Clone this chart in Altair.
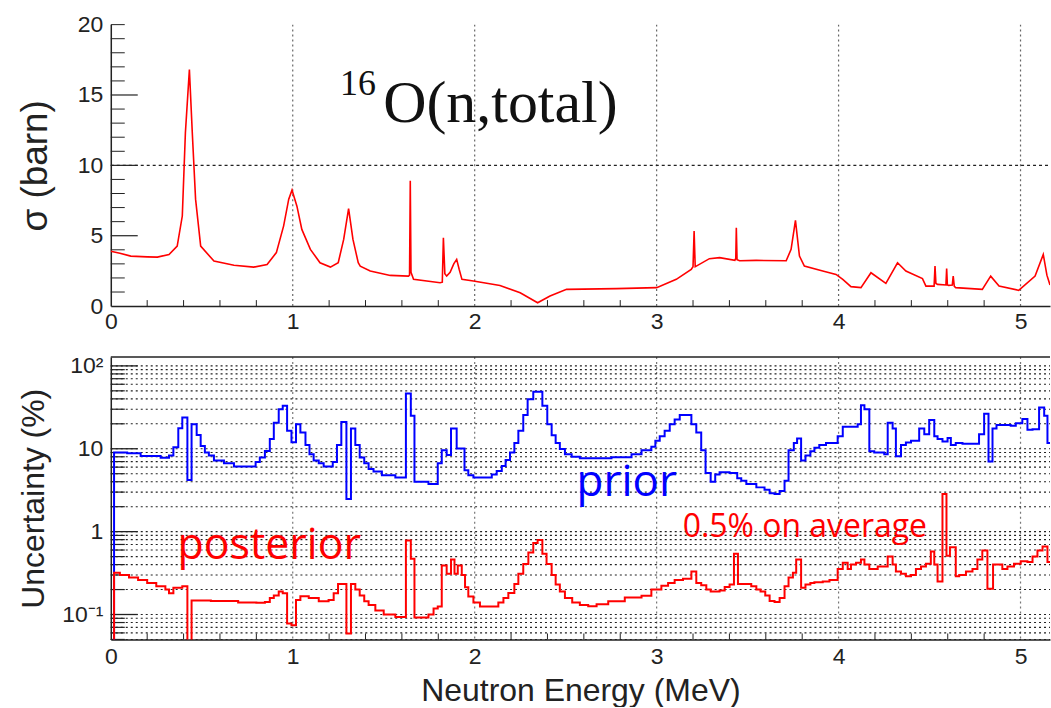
import altair as alt
import pandas as pd

# ---------------- data ----------------
energy_top = [0.0, 0.05, 0.11, 0.2, 0.256, 0.32, 0.365, 0.393, 0.41, 0.432, 0.448, 0.466, 0.494, 0.567,
              0.677, 0.786, 0.859, 0.91, 0.95, 0.978, 0.996, 1.023, 1.05, 1.097, 1.15, 1.207, 1.25, 1.28,
              1.307, 1.331, 1.36, 1.371, 1.426, 1.536, 1.636, 1.642, 1.646, 1.650, 1.664, 1.81, 1.822,
              1.828, 1.836, 1.846, 1.865, 1.885, 1.901, 1.915, 1.93, 1.993, 2.139, 2.25, 2.346, 2.414,
              2.505, 2.78, 3.0, 3.108, 3.19, 3.2, 3.206, 3.212, 3.218, 3.29, 3.346, 3.43, 3.435, 3.438,
              3.442, 3.456, 3.547, 3.712, 3.739, 3.763, 3.785, 3.812, 3.913, 3.986, 4.023, 4.068, 4.123,
              4.178, 4.26, 4.324, 4.37, 4.461, 4.48, 4.525, 4.53, 4.535, 4.544, 4.59, 4.594, 4.598, 4.605,
              4.625, 4.63, 4.636, 4.644, 4.79, 4.836, 4.882, 4.99, 5.08, 5.125, 5.145, 5.162]
sigma_top = [3.9, 3.75, 3.55, 3.5, 3.48, 3.67, 4.26, 6.4, 12.3, 16.8, 12.3, 7.6, 4.26, 3.2,
             2.9, 2.77, 2.96, 3.8, 5.7, 7.6, 8.24, 7.1, 5.45, 4.03, 3.08, 2.77, 3.08, 4.74,
             6.92, 4.74, 3.08, 2.84, 2.49, 2.18, 2.13, 2.2, 8.9, 2.4, 1.9, 1.66, 1.7,
             4.86, 2.3, 2.13, 2.4, 3.0, 3.32, 2.6, 1.9, 1.78, 1.47, 0.95, 0.24, 0.71,
             1.19, 1.24, 1.31, 1.9, 2.6, 2.8, 5.33, 2.8, 2.84, 3.37, 3.44, 3.25, 3.4, 5.57,
             3.3, 3.22, 3.25, 3.22, 4.03, 6.09, 3.55, 2.84, 2.49, 2.25, 1.9, 1.38, 1.31,
             2.37, 1.61, 3.08, 2.49, 1.95, 1.42, 1.42, 2.84, 1.6, 1.54, 1.5, 2.66, 1.5, 1.47,
             1.5, 2.13, 1.4, 1.31, 1.19, 2.13, 1.42, 1.12, 2.13, 3.67, 2.2, 1.5]

prior_edges = [0.0, 0.018, 0.09, 0.164, 0.274, 0.32, 0.344, 0.371, 0.393, 0.421, 0.444, 0.472, 0.494,
               0.517, 0.539, 0.567, 0.622, 0.677, 0.796, 0.819, 0.847, 0.874, 0.896, 0.923, 0.945,
               0.969, 0.993, 1.018, 1.042, 1.07, 1.092, 1.115, 1.143, 1.17, 1.22, 1.243, 1.267, 1.295,
               1.32, 1.344, 1.368, 1.393, 1.417, 1.444, 1.49, 1.564, 1.622, 1.649, 1.669, 1.746, 1.797,
               1.819, 1.846, 1.87, 1.901, 1.944, 1.965, 1.993, 2.094, 2.121, 2.149, 2.17, 2.194, 2.218,
               2.24, 2.267, 2.291, 2.322, 2.372, 2.399, 2.423, 2.445, 2.468, 2.496, 2.533, 2.578, 2.752,
               2.862, 2.917, 2.971, 2.993, 3.017, 3.044, 3.072, 3.099, 3.127, 3.191, 3.218, 3.245, 3.269,
               3.297, 3.322, 3.346, 3.401, 3.443, 3.465, 3.493, 3.548, 3.593, 3.621, 3.648, 3.676, 3.703,
               3.725, 3.754, 3.772, 3.794, 3.818, 3.845, 3.867, 3.894, 3.931, 3.995, 4.023, 4.105, 4.123,
               4.142, 4.169, 4.196, 4.251, 4.27, 4.297, 4.315, 4.343, 4.37, 4.398, 4.443, 4.471, 4.498,
               4.526, 4.544, 4.571, 4.599, 4.617, 4.644, 4.681, 4.772, 4.8, 4.824, 4.846, 4.868, 4.946,
               4.974, 5.01, 5.038, 5.066, 5.102, 5.13, 5.148, 5.162]
prior_vals = [0.03, 9.0, 8.8, 8.2, 7.8, 8.3, 10.4, 17.7, 23.8, 4.2, 19.8, 14.7, 10.8,
              9.0, 8.3, 7.2, 6.7, 6.1, 6.9, 7.85, 9.4, 13.1, 20.6, 30.0, 33.0,
              16.5, 12.0, 19.8, 15.7, 11.1, 8.6, 7.2, 6.7, 6.1, 6.9, 11.1, 21.0, 2.48,
              17.6, 11.1, 7.85, 6.7, 5.7, 5.3, 4.8, 4.5, 46.5, 25.0, 4.0, 3.76, 6.7,
              9.6, 8.4, 17.6, 10.1, 5.5, 4.8, 4.5, 4.9, 5.4, 6.2, 7.3, 9.0, 11.7,
              16.5, 25.5, 39.5, 48.6, 33.0, 19.8, 14.6, 11.7, 9.9, 8.6, 8.0, 7.7, 7.9,
              8.6, 9.6, 10.6, 12.5, 14.2, 16.5, 19.8, 22.5, 25.5, 19.8, 15.7, 9.6, 5.1,
              4.0, 4.9, 5.2, 5.1, 4.4, 4.1, 3.76, 3.42, 3.2, 2.9, 2.85, 3.1, 4.1,
              9.6, 11.7, 13.3, 7.2, 8.3, 9.3, 10.3, 11.1, 11.7, 14.2, 18.4, 19.8, 33.4,
              30.0, 9.3, 9.0, 8.6, 20.6, 17.6, 8.1, 11.1, 11.9, 12.5, 17.6, 15.0, 22.3,
              14.2, 13.1, 12.2, 13.5, 11.1, 11.7, 11.5, 15.0, 26.4, 7.0, 17.6, 19.3, 19.0,
              20.3, 22.9, 16.9, 17.2, 31.5, 25.0, 11.7, 11.7]

post_edges = [0.0, 0.018, 0.05, 0.1, 0.15, 0.2, 0.25, 0.3, 0.32, 0.344, 0.393, 0.421, 0.444, 0.55,
              0.70, 0.8, 0.847, 0.874, 0.896, 0.923, 0.945, 0.969, 0.993, 1.018, 1.042, 1.088, 1.143,
              1.197, 1.225, 1.249, 1.295, 1.32, 1.344, 1.368, 1.393, 1.417, 1.454, 1.5, 1.564, 1.622,
              1.649, 1.669, 1.746, 1.774, 1.797, 1.819, 1.846, 1.87, 1.889, 1.907, 1.929, 1.947, 1.965,
              1.993, 2.029, 2.13, 2.158, 2.185, 2.218, 2.24, 2.267, 2.295, 2.322, 2.346, 2.372, 2.395,
              2.423, 2.445, 2.468, 2.496, 2.536, 2.578, 2.624, 2.67, 2.734, 2.825, 2.917, 2.971, 3.026,
              3.063, 3.099, 3.145, 3.191, 3.218, 3.245, 3.273, 3.297, 3.346, 3.374, 3.401, 3.425, 3.447,
              3.52, 3.548, 3.571, 3.597, 3.621, 3.648, 3.676, 3.703, 3.725, 3.749, 3.767, 3.794, 3.818,
              3.845, 3.867, 3.913, 3.95, 3.995, 4.023, 4.05, 4.068, 4.096, 4.123, 4.142, 4.169, 4.215,
              4.27, 4.297, 4.315, 4.343, 4.37, 4.398, 4.425, 4.453, 4.48, 4.507, 4.526, 4.544, 4.571,
              4.593, 4.612, 4.644, 4.663, 4.7, 4.736, 4.763, 4.79, 4.818, 4.849, 4.9, 4.928, 4.964,
              5.001, 5.038, 5.066, 5.093, 5.121, 5.148, 5.162]
post_vals = [0.03, 0.32, 0.30, 0.28, 0.26, 0.24, 0.22, 0.2, 0.18, 0.21, 0.22, 0.03, 0.148, 0.146,
             0.14, 0.139, 0.142, 0.158, 0.17, 0.19, 0.18, 0.078, 0.074, 0.15, 0.166, 0.158, 0.145,
             0.15, 0.18, 0.234, 0.059, 0.234, 0.2, 0.17, 0.145, 0.13, 0.112, 0.1, 0.093, 0.78,
             0.47, 0.092, 0.1, 0.118, 0.125, 0.39, 0.31, 0.46, 0.31, 0.39, 0.3, 0.213, 0.165,
             0.14, 0.125, 0.14, 0.158, 0.182, 0.234, 0.31, 0.408, 0.56, 0.73, 0.79, 0.54, 0.408,
             0.3, 0.23, 0.19, 0.158, 0.14, 0.13, 0.126, 0.133, 0.145, 0.16, 0.168, 0.2, 0.223,
             0.24, 0.26, 0.27, 0.33, 0.24, 0.225, 0.2, 0.19, 0.195, 0.215, 0.23, 0.54, 0.234,
             0.22, 0.2, 0.19, 0.17, 0.146, 0.142, 0.158, 0.22, 0.28, 0.32, 0.46, 0.21, 0.23,
             0.24, 0.245, 0.25, 0.26, 0.355, 0.42, 0.355, 0.4, 0.42, 0.46, 0.4, 0.355, 0.38,
             0.5, 0.4, 0.33, 0.31, 0.29, 0.3, 0.355, 0.38, 0.41, 0.575, 0.4, 0.25, 2.84,
             0.51, 0.647, 0.29, 0.3, 0.33, 0.355, 0.46, 0.59, 0.204, 0.4, 0.355, 0.38, 0.41,
             0.44, 0.43, 0.5, 0.59, 0.66, 0.43, 0.43]

x_labels = [0, 1, 2, 3, 4, 5]
x_grid = [1, 2, 3, 4, 5]
x_minor_ticks = [0.2, 0.4, 0.6, 0.8, 1.2, 1.4, 1.6, 1.8, 2.2, 2.4, 2.6, 2.8, 3.2, 3.4, 3.6, 3.8,
                 4.2, 4.4, 4.6, 4.8]
top_y_labels = [0, 5, 10, 15, 20]
top_y_minor = [1, 2, 3, 4, 6, 7, 8, 9, 11, 12, 13, 14, 16, 17, 18, 19, 20]
top_y_major = [5, 10, 15]
top_y_grid = [10]
log_major = [0.1, 1, 10, 100]
log_minor = [0.05, 0.06, 0.07, 0.08, 0.09, 0.2, 0.3, 0.4, 0.5, 0.6, 0.7, 0.8, 0.9,
             2, 3, 4, 5, 6, 7, 8, 9, 20, 30, 40, 50, 60, 70, 80, 90]

# ---------------- layout ----------------
W = 941
H1 = 282
H2 = 283
SANS = "Liberation Sans"
AX = "#222222"

xscale = alt.Scale(domain=[0, 5.162], nice=False, zero=False)
ytop = alt.Scale(domain=[0, 20], nice=False, zero=False)
ybot = alt.Scale(type="log", domain=[0.05, 128], nice=False)

axis_common = dict(tickSize=0, grid=False, domainColor=AX, domainWidth=1.5, labelFont=SANS,
                   labelFontSize=23, labelColor=AX, titleFont=SANS,
                   titleFontWeight="normal", titleColor=AX)

xa_top = alt.Axis(title=None, values=x_labels, format="d", labelPadding=4, labelFlush=False,
                  **axis_common)
xa_bot = alt.Axis(title="Neutron Energy (MeV)", values=x_labels, format="d", labelPadding=6,
                  labelFlush=False, titlePadding=7, titleFontSize=32, **axis_common)
ya_top = alt.Axis(title="σ (barn)", values=top_y_labels, labelPadding=8, titlePadding=8,
                  titleFontSize=37, minExtent=48, maxExtent=48, **axis_common)
ya_bot = alt.Axis(title="Uncertainty (%)", values=log_major, labelPadding=8, titlePadding=12,
                  titleFontSize=32, minExtent=48, maxExtent=48,
                  labelExpr="datum.value >= 99 ? '10²' : datum.value >= 9 ? '10' : datum.value >= 0.9 ? '1' : '10⁻¹'",
                  **axis_common)

one = pd.DataFrame({"a": [0]})

# ---- top panel ----
top_df = pd.DataFrame({"E": energy_top, "S": sigma_top})
xg_df = pd.DataFrame({"E": x_grid})
xm_df = pd.DataFrame({"E": x_minor_ticks})
ymin_df = pd.DataFrame({"S": top_y_minor})
ymaj_df = pd.DataFrame({"S": top_y_major})
yg_df = pd.DataFrame({"S": top_y_grid})

TX = lambda f: alt.X(f, scale=xscale, axis=xa_top)
TY = lambda f: alt.Y(f, scale=ytop, axis=ya_top)

t_vgrid = alt.Chart(xg_df).mark_rule(color="#666666", strokeDash=[2, 3], strokeWidth=1.2).encode(
    x=TX("E:Q"), y=alt.value(0), y2=alt.value(H1))
t_hgrid = alt.Chart(yg_df).mark_rule(color="#222222", strokeDash=[3, 3], strokeWidth=1.2).encode(
    y=TY("S:Q"), x=alt.value(0), x2=alt.value(W))
t_xt = alt.Chart(xm_df).mark_rule(color=AX, strokeWidth=1).encode(
    x=TX("E:Q"), y=alt.value(H1), y2=alt.value(H1 - 6))
t_ymin = alt.Chart(ymin_df).mark_rule(color=AX, strokeWidth=1).encode(
    y=TY("S:Q"), x=alt.value(0), x2=alt.value(14))
t_ymaj = alt.Chart(ymaj_df).mark_rule(color=AX, strokeWidth=1.2).encode(
    y=TY("S:Q"), x=alt.value(0), x2=alt.value(27))
t_line = alt.Chart(top_df).mark_line(color="#ff0000", strokeWidth=1.6, clip=True).encode(
    x=TX("E:Q"), y=TY("S:Q"))
t_sup = alt.Chart(one).mark_text(
    text="16", font="Liberation Serif", fontSize=36, align="left", baseline="alphabetic",
    color="#111111").encode(x=alt.datum(1.26, scale=xscale), y=alt.datum(15.0, scale=ytop))
t_title = alt.Chart(one).mark_text(
    text="O(n,total)", font="Liberation Serif", fontSize=60, align="left", baseline="alphabetic",
    color="#111111").encode(x=alt.datum(1.497, scale=xscale), y=alt.datum(13.1, scale=ytop))

top = alt.layer(t_vgrid, t_hgrid, t_xt, t_ymin, t_ymaj, t_line, t_sup, t_title).properties(
    width=W, height=H1)

# ---- bottom panel ----
prior_df = pd.DataFrame({"E": prior_edges, "U": prior_vals})
post_df = pd.DataFrame({"E": post_edges, "U": post_vals})
lmaj_df = pd.DataFrame({"U": log_major})
lmin_df = pd.DataFrame({"U": log_minor})
lall_df = pd.DataFrame({"U": log_minor + log_major})

BX = lambda f: alt.X(f, scale=xscale, axis=xa_bot)
BY = lambda f: alt.Y(f, scale=ybot, axis=ya_bot)

b_vgrid = alt.Chart(xg_df).mark_rule(color="#777777", strokeDash=[2, 3], strokeWidth=1.2).encode(
    x=BX("E:Q"), y=alt.value(0), y2=alt.value(H2))
b_hgrid = alt.Chart(lall_df).mark_rule(color="#222222", strokeDash=[2, 3], strokeWidth=1.1).encode(
    y=BY("U:Q"), x=alt.value(0), x2=alt.value(W))
b_xt = alt.Chart(xm_df).mark_rule(color=AX, strokeWidth=1).encode(
    x=BX("E:Q"), y=alt.value(H2), y2=alt.value(H2 - 6))
b_ymin = alt.Chart(lmin_df).mark_rule(color=AX, strokeWidth=1.2).encode(
    y=BY("U:Q"), x=alt.value(0), x2=alt.value(14))
b_ymaj = alt.Chart(lmaj_df).mark_rule(color=AX, strokeWidth=1.3).encode(
    y=BY("U:Q"), x=alt.value(0), x2=alt.value(27))
b_top = alt.Chart(one).mark_rule(color=AX, strokeWidth=1.5).encode(
    x=alt.value(0), x2=alt.value(W), y=alt.value(0))
b_prior = alt.Chart(prior_df).mark_line(color="#0000ff", strokeWidth=2, interpolate="step-after",
                                         clip=True).encode(x=BX("E:Q"), y=BY("U:Q"))
b_post = alt.Chart(post_df).mark_line(color="#ff0000", strokeWidth=2, interpolate="step-after",
                                       clip=True).encode(x=BX("E:Q"), y=BY("U:Q"))
b_prior_lbl = alt.Chart(one).mark_text(
    text="prior", font="Open Sans", fontSize=44, align="left", baseline="alphabetic",
    color="#0000ff").encode(x=alt.datum(2.56, scale=xscale), y=alt.datum(2.72, scale=ybot))
b_post_lbl = alt.Chart(one).mark_text(
    text="posterior", font="Open Sans", fontSize=43, align="left", baseline="alphabetic",
    color="#ff0000").encode(x=alt.datum(0.366, scale=xscale), y=alt.datum(0.469, scale=ybot))
b_avg_lbl = alt.Chart(one).mark_text(
    text="0.5% on average", font="Open Sans", fontSize=32, align="left", baseline="alphabetic",
    color="#ff0000").encode(x=alt.datum(3.143, scale=xscale), y=alt.datum(0.85, scale=ybot))

bottom = alt.layer(b_vgrid, b_hgrid, b_xt, b_ymin, b_ymaj, b_top, b_prior, b_post,
                   b_prior_lbl, b_post_lbl, b_avg_lbl).properties(width=W, height=H2)

chart = alt.vconcat(top, bottom, spacing=21).properties(
    padding={"left": 17, "top": 13, "right": 0, "bottom": 0},
    background="white"
).configure_view(stroke=None)

chart.save("out.html", embed_options={"renderer": "svg", "actions": False})
